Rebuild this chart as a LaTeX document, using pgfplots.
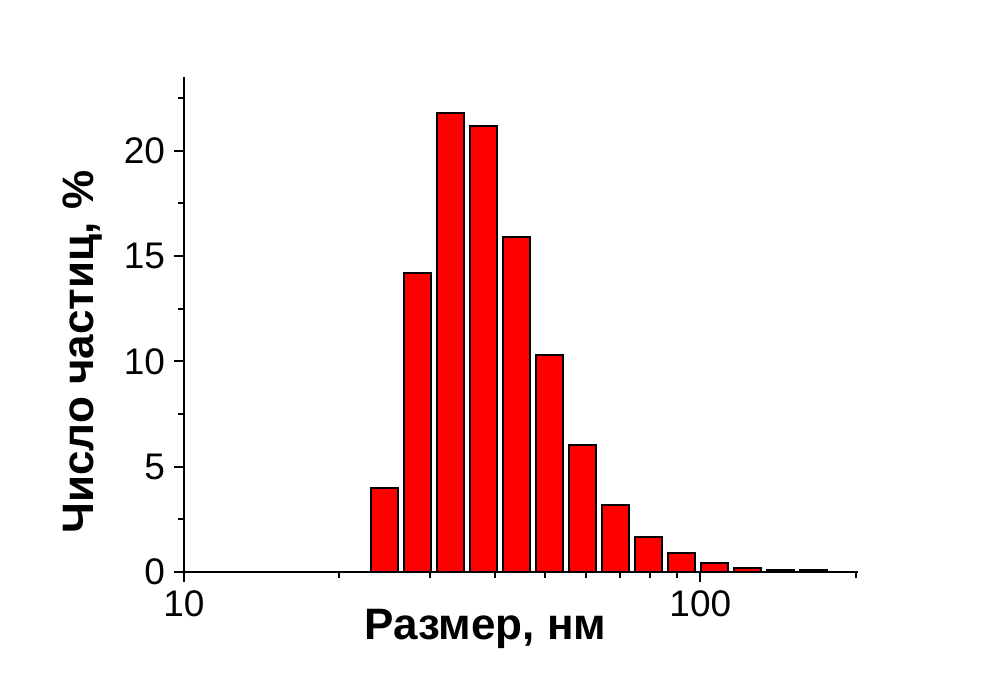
\documentclass[border=0pt]{standalone}
\usepackage{pgfplots}
\pgfplotsset{compat=1.18}
\usepackage{fontspec}
\setmainfont{Liberation Sans}
\begin{document}
\begin{tikzpicture}[x=0.5pt,y=0.5pt]
\path[use as bounding box] (-184,-103) rectangle (799,572);
\begin{axis}[
  at={(0,0)}, anchor=south west,
  scale only axis,
  width=337pt, height=247.5pt,
  xmode=log, log basis x=10,
  xmin=10, xmax=202, ymin=0, ymax=23.5,
  axis x line=bottom, axis y line=left,
  axis line style={-, line width=1pt},
  tick align=outside,
  tick style={black, line width=1pt},
  major tick length=5pt, minor tick length=3pt,
  xtick={10,100},
  xticklabels={10,100},
  minor xtick={20,30,40,50,60,70,80,90,200},
  ytick={0,5,10,15,20},
  minor ytick={2.5,7.5,12.5,17.5,22.5},
  /pgf/number format/assume math mode=true,
  tick label style={font=\fontsize{18.5}{20}\selectfont},
  xticklabel style={yshift=-1pt},
  yticklabel style={xshift=-1pt},
  xlabel={\textbf{Размер, нм}},
  ylabel={\textbf{Число частиц, \%}},
  label style={font=\fontsize{22}{24}\selectfont},
  xlabel style={at={(axis description cs:0.447,-0.137)}, anchor=base},
  ylabel style={at={(axis description cs:-0.151,0.444)}, anchor=center},
  clip=false,
]
\addplot[ybar, bar width=13.5pt, fill=red, draw=black, line width=1pt] coordinates {
(24.4,4.0) (28.3,14.2) (32.8,21.8) (38.0,21.15) (44.0,15.9) (51.0,10.3)
(59.1,6.03) (68.5,3.18) (79.4,1.68) (92.0,0.92) (106.6,0.41) (123.6,0.19)
(143.2,0.1) (165.9,0.1)
};
\end{axis}
\end{tikzpicture}
\end{document}
